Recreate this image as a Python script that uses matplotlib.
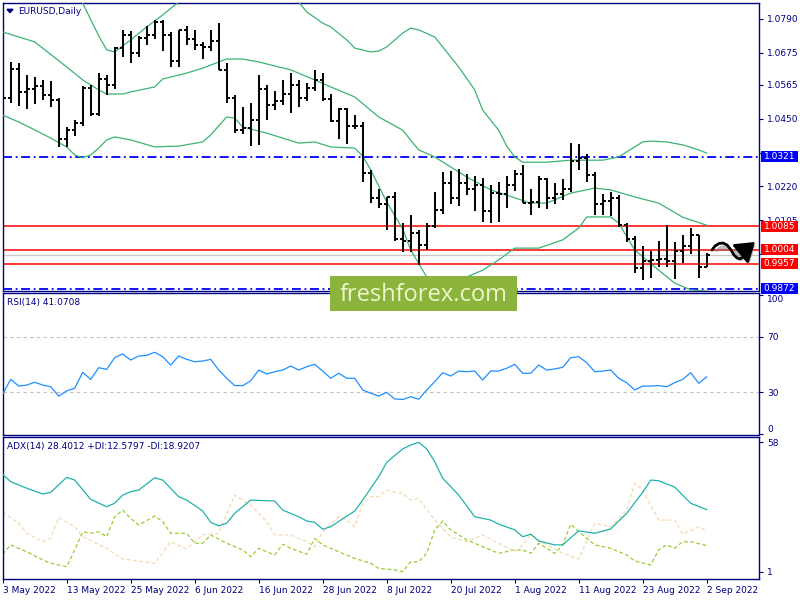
import matplotlib
matplotlib.use("Agg")
import matplotlib.pyplot as plt
import numpy as np
from matplotlib.patches import Rectangle, FancyArrowPatch, Polygon, ArrowStyle
from matplotlib.path import Path
from matplotlib.transforms import blended_transform_factory
import matplotlib.patheffects as pe

plt.rcParams['font.family'] = ['DejaVu Sans']

# ---------------- data ----------------
date_labels = ["3 May 2022", "13 May 2022", "25 May 2022", "6 Jun 2022", "16 Jun 2022",
               "28 Jun 2022", "8 Jul 2022", "20 Jul 2022", "1 Aug 2022", "11 Aug 2022",
               "23 Aug 2022", "2 Sep 2022"]
date_tick_idx = list(range(0, 89, 8))

opens = [1.0510, 1.0522, 1.0620, 1.0541, 1.0550, 1.0560, 1.0530, 1.0513, 1.0380, 1.0412,
         1.0435, 1.0555, 1.0465, 1.0585, 1.0563, 1.0690, 1.0735, 1.0675, 1.0725, 1.0733,
         1.0780, 1.0733, 1.0647, 1.0750, 1.0720, 1.0700, 1.0695, 1.0715, 1.0615, 1.0520,
         1.0410, 1.0420, 1.0445, 1.0550, 1.0495, 1.0510, 1.0535, 1.0566, 1.0522, 1.0555,
         1.0583, 1.0518, 1.0443, 1.0484, 1.0425, 1.0425, 1.0265, 1.0182, 1.0160, 1.0185,
         1.0040, 1.0035, 1.0060, 1.0020, 1.0085, 1.0140, 1.0230, 1.0180, 1.0230, 1.0212,
         1.0224, 1.0135, 1.0198, 1.0195, 1.0225, 1.0262, 1.0165, 1.0166, 1.0245, 1.0180,
         1.0195, 1.0210, 1.0305, 1.0318, 1.0260, 1.0160, 1.0170, 1.0180, 1.0088, 1.0040,
         0.9943, 0.9966, 0.9968, 0.9973, 0.9965, 1.0000, 1.0018, 1.0055, 0.9945]
highs = [1.0580, 1.0642, 1.0641, 1.0600, 1.0592, 1.0582, 1.0577, 1.0520, 1.0423, 1.0445,
         1.0560, 1.0565, 1.0605, 1.0600, 1.0695, 1.0750, 1.0748, 1.0730, 1.0765, 1.0787,
         1.0786, 1.0745, 1.0750, 1.0765, 1.0750, 1.0710, 1.0750, 1.0775, 1.0640, 1.0530,
         1.0490, 1.0505, 1.0600, 1.0565, 1.0545, 1.0583, 1.0605, 1.0580, 1.0570, 1.0615,
         1.0605, 1.0535, 1.0487, 1.0487, 1.0462, 1.0440, 1.0275, 1.0210, 1.0185, 1.0200,
         1.0097, 1.0122, 1.0070, 1.0095, 1.0200, 1.0270, 1.0273, 1.0278, 1.0262, 1.0255,
         1.0250, 1.0225, 1.0235, 1.0255, 1.0275, 1.0294, 1.0212, 1.0254, 1.0250, 1.0230,
         1.0245, 1.0368, 1.0365, 1.0330, 1.0268, 1.0195, 1.0202, 1.0190, 1.0096, 1.0050,
         1.0018, 0.9999, 1.0034, 1.0090, 1.0030, 1.0054, 1.0080, 1.0055, 0.9995]
lows = [1.0492, 1.0505, 1.0492, 1.0483, 1.0500, 1.0515, 1.0490, 1.0355, 1.0355, 1.0390,
        1.0425, 1.0460, 1.0460, 1.0530, 1.0550, 1.0660, 1.0640, 1.0660, 1.0700, 1.0720,
        1.0680, 1.0627, 1.0627, 1.0700, 1.0685, 1.0653, 1.0680, 1.0615, 1.0505, 1.0400,
        1.0397, 1.0358, 1.0360, 1.0445, 1.0480, 1.0495, 1.0470, 1.0490, 1.0510, 1.0545,
        1.0510, 1.0440, 1.0380, 1.0365, 1.0415, 1.0235, 1.0162, 1.0145, 1.0072, 1.0035,
        0.9998, 0.9998, 0.9952, 1.0005, 1.0080, 1.0125, 1.0160, 1.0152, 1.0190, 1.0135,
        1.0100, 1.0097, 1.0100, 1.0145, 1.0205, 1.0163, 1.0123, 1.0145, 1.0142, 1.0160,
        1.0175, 1.0202, 1.0275, 1.0235, 1.0123, 1.0123, 1.0118, 1.0082, 1.0030, 0.9926,
        0.9900, 0.9910, 0.9945, 0.9945, 0.9905, 0.9960, 0.9990, 0.9910, 0.9945]
closes = [1.0522, 1.0620, 1.0541, 1.0550, 1.0560, 1.0530, 1.0513, 1.0380, 1.0412, 1.0435,
          1.0555, 1.0465, 1.0585, 1.0563, 1.0690, 1.0735, 1.0675, 1.0725, 1.0733, 1.0780,
          1.0733, 1.0647, 1.0750, 1.0720, 1.0700, 1.0695, 1.0715, 1.0615, 1.0520, 1.0410,
          1.0420, 1.0445, 1.0550, 1.0495, 1.0510, 1.0535, 1.0566, 1.0522, 1.0555, 1.0583,
          1.0518, 1.0443, 1.0484, 1.0425, 1.0425, 1.0265, 1.0182, 1.0160, 1.0185, 1.0040,
          1.0035, 1.0060, 1.0020, 1.0085, 1.0140, 1.0230, 1.0180, 1.0230, 1.0212, 1.0224,
          1.0135, 1.0198, 1.0195, 1.0225, 1.0262, 1.0165, 1.0166, 1.0245, 1.0180, 1.0195,
          1.0210, 1.0305, 1.0318, 1.0260, 1.0160, 1.0170, 1.0180, 1.0088, 1.0040, 0.9943,
          0.9966, 0.9968, 0.9973, 0.9965, 1.0000, 1.0018, 1.0055, 0.9945, 0.9986]

# Bollinger bands
bb_up_idx = [0, 5, 8, 10, 11, 12, 13, 14, 16, 18, 20, 22, 25, 30, 34, 37, 38, 40, 41, 43,
             44, 46, 47, 48, 50, 51, 52, 54, 55, 57, 59, 60, 62, 63, 64, 65, 68, 71, 75, 77,
             79, 80, 81, 83, 85, 87, 88]
bb_up = [1.1007, 1.0973, 1.0922, 1.0843, 1.0787, 1.0732, 1.0684, 1.0677, 1.0718, 1.0762,
         1.0803, 1.0847, 1.0888, 1.0939, 1.0905, 1.0847, 1.0813, 1.0775, 1.0762, 1.0718,
         1.0690, 1.0677, 1.0680, 1.0694, 1.0741, 1.0758, 1.0752, 1.0728, 1.0694, 1.0626,
         1.0548, 1.0479, 1.0411, 1.0357, 1.0320, 1.0302, 1.0302, 1.0309, 1.0309, 1.0320,
         1.0354, 1.0371, 1.0374, 1.0371, 1.0361, 1.0344, 1.0333]
bb_mid_idx = [0, 4, 8, 10, 12, 13, 15, 16, 19, 20, 23, 25, 28, 30, 32, 36, 39, 41, 44, 47,
              50, 51, 52, 54, 58, 61, 66, 68, 71, 74, 76, 79, 82, 85, 88]
bb_mid = [1.0745, 1.0711, 1.0626, 1.0582, 1.0548, 1.0534, 1.0534, 1.0541, 1.0558, 1.0585,
          1.0605, 1.0622, 1.0653, 1.0653, 1.0643, 1.0616, 1.0582, 1.0558, 1.0524, 1.0456,
          1.0411, 1.0377, 1.0344, 1.0320, 1.0252, 1.0208, 1.0163, 1.0163, 1.0197, 1.0214,
          1.0208, 1.0184, 1.0163, 1.0115, 1.0088]
bb_low_idx = [0, 2, 4, 6, 8, 9, 10, 11, 12, 13, 14, 16, 19, 22, 25, 26, 28, 29, 30, 33,
              37, 39, 41, 44, 45, 46, 48, 50, 51, 53, 55, 57, 58, 60, 62, 64, 67, 70, 72, 73,
              76, 77, 79, 82, 84, 86, 88]
bb_low = [1.0462, 1.0439, 1.0412, 1.0384, 1.0354, 1.0327, 1.0317, 1.0327, 1.0350, 1.0378,
          1.0388, 1.0378, 1.0354, 1.0357, 1.0371, 1.0395, 1.0456, 1.0452, 1.0422, 1.0401,
          1.0367, 1.0371, 1.0354, 1.0350, 1.0323, 1.0276, 1.0167, 1.0075, 1.0004, 0.9912,
          0.9878, 0.9891, 0.9912, 0.9935, 0.9970, 1.0010, 1.0010, 1.0038, 1.0078, 1.0116,
          1.0116, 1.0095, 1.0004, 0.9935, 0.9891, 0.9868, 0.9864]

# Horizontal levels
blue_levels = [1.0321, 0.9872]
red_levels = [1.0085, 1.0004, 0.9957]
bid_price = 0.9986
price_ticks = [1.0790, 1.0675, 1.0565, 1.0450, 1.0335, 1.0220, 1.0105, 0.9990]
price_tick_labels = ['1.0790', '1.0675', '1.0565', '1.0450', '', '1.0220', '1.0105', '']

# RSI(14)
rsi = [28.8, 39.3, 34.5, 35.2, 37.2, 35.2, 34.0, 27.3, 31.0, 32.9,
       44.4, 39.3, 47.7, 46.5, 55.0, 57.6, 53.2, 56.1, 56.6, 58.8,
       55.6, 49.6, 56.1, 53.7, 52.0, 52.5, 53.7, 46.0, 40.1, 34.8,
       34.8, 38.3, 46.0, 43.2, 44.8, 46.0, 48.9, 46.0, 48.4, 50.1,
       45.3, 40.1, 43.7, 40.1, 40.1, 31.7, 29.3, 27.3, 30.0, 25.2,
       24.8, 26.8, 25.0, 31.7, 37.6, 44.1, 41.7, 45.3, 44.8, 45.3,
       38.8, 45.3, 45.3, 47.3, 50.1, 43.7, 43.7, 49.6, 46.0, 46.8,
       48.0, 54.9, 55.6, 51.3, 44.8, 45.3, 46.0, 40.1, 36.9, 31.7,
       34.5, 34.5, 34.8, 34.0, 36.9, 39.3, 44.1, 36.5, 41.1]

# ADX(14), +DI, -DI
adx_idx = [0, 1, 3, 5, 6, 8, 9, 11, 13, 14, 15, 16, 17, 19, 20, 22, 23, 25, 26, 27,
           28, 29, 31, 33, 34, 35, 37, 38, 39, 40, 41, 44, 45, 47, 48, 50, 51, 52, 53, 54,
           55, 57, 59, 61, 62, 64, 65, 66, 67, 69, 70, 72, 74, 76, 78, 80, 81, 82, 84, 86, 88]
adx = [43.9, 40.7, 37.8, 35.3, 36.0, 42.6, 41.4, 32.9, 29.7, 31.2, 34.8, 36.3, 37.0, 42.4,
       41.4, 34.1, 32.6, 27.8, 22.8, 21.3, 22.4, 26.8, 32.6, 32.3, 32.2, 28.2, 25.3, 23.4,
       22.8, 19.8, 20.9, 27.8, 32.6, 42.9, 49.2, 55.1, 56.8, 58.0, 55.1, 49.5, 42.2, 34.8,
       25.3, 23.8, 22.0, 19.5, 16.5, 17.6, 14.6, 12.9, 12.9, 19.1, 18.0, 19.9, 26.8, 36.0,
       41.4, 41.1, 38.3, 31.2, 28.4]
pdi_idx = [0, 1, 3, 5, 6, 8, 9, 10, 11, 12, 13, 14, 15, 16, 17, 19, 20, 21, 23, 24,
           25, 26, 28, 30, 31, 32, 34, 35, 36, 38, 39, 40, 42, 44, 46, 47, 49, 50, 51, 52,
           53, 54, 55, 56, 58, 60, 62, 64, 65, 66, 67, 69, 70, 71, 72, 74, 76, 78, 79, 81,
           82, 83, 84, 85, 86, 88]
pdi = [8.8, 12.9, 9.9, 6.3, 4.8, 3.3, 10.7, 18.7, 18.0, 18.7, 16.5, 25.3, 28.2, 24.6, 21.6,
       25.6, 23.1, 18.0, 18.0, 13.6, 13.6, 17.3, 13.6, 10.7, 7.7, 11.4, 8.5, 13.2, 11.4, 8.8,
       15.8, 12.9, 9.9, 7.0, 4.8, 2.6, 1.9, 1.1, 5.5, 5.5, 9.2, 19.5, 23.4, 19.5, 15.1,
       12.1, 9.2, 10.7, 10.7, 9.2, 13.6, 9.2, 12.9, 22.0, 18.7, 12.9, 11.4, 8.5, 5.8, 4.1,
       10.7, 12.9, 11.4, 14.3, 14.3, 12.6]
mdi_idx = [0, 2, 3, 5, 6, 7, 9, 10, 13, 15, 16, 19, 21, 23, 25, 27, 29, 31, 33, 34,
           36, 38, 39, 40, 42, 43, 44, 45, 46, 47, 48, 49, 50, 51, 52, 54, 56, 58, 60, 62,
           64, 65, 66, 68, 70, 72, 74, 76, 78, 79, 80, 82, 84, 85, 87, 88]
mdi = [27.2, 22.4, 18.0, 14.3, 15.8, 24.9, 20.9, 16.5, 11.4, 6.7, 6.3, 4.8, 14.3, 11.1,
       17.3, 18.0, 34.8, 30.4, 23.1, 17.3, 17.3, 14.3, 12.1, 18.7, 25.3, 23.8, 20.9, 31.0,
       34.1, 34.1, 37.0, 36.0, 35.6, 32.6, 33.4, 23.8, 16.5, 14.3, 17.3, 13.6, 9.9, 12.9,
       17.3, 12.9, 9.2, 6.7, 22.4, 20.9, 28.2, 40.0, 37.0, 23.8, 23.8, 17.6, 20.9, 18.9]

# hand-drawn forecast wave (bar index, price)
wave_idx = [88.66, 89.04, 89.54, 90.04, 90.54, 91.04, 91.41, 91.79, 92.16, 92.54, 92.91, 93.29, 93.66, 94.04]
wave_px = [1.00036, 1.00172, 1.00257, 1.00274, 1.00206, 1.00036, 0.99866, 0.99764, 0.99730,
           0.99798, 0.99934, 1.00104, 1.00223, 1.00308]

# ---------------- layout ----------------
W, H = 800, 600
NAVY = '#000080'
fig = plt.figure(figsize=(8, 6), dpi=100)
fig.patch.set_facecolor('white')


def fx(px):
    return px / W


def fy(py):
    return 1 - py / H


L, R = 2.7, 759.0
ax_p = fig.add_axes([fx(L), fy(290.5), fx(R) - fx(L), fy(3) - fy(290.5)])
ax_r = fig.add_axes([fx(L), fy(434.5), fx(R) - fx(L), fy(292.5) - fy(434.5)])
ax_a = fig.add_axes([fx(L), fy(579), fx(R) - fx(L), fy(436.5) - fy(579)])

xmax = (R - L) / 8.0
for ax in (ax_p, ax_r, ax_a):
    ax.set_xlim(0, xmax)
    for s in ax.spines.values():
        s.set_color(NAVY)
        s.set_linewidth(1.0)
    ax.yaxis.tick_right()
    ax.tick_params(axis='y', direction='out', length=3, width=0.8, colors=NAVY,
                   labelsize=6.5, pad=3)
    ax.set_facecolor('white')

ax_p.set_ylim(0.98659, 1.08434)
ax_r.set_ylim(-0.36, 101.8)
ax_a.set_ylim(-2.09, 60.55)

for ax in (ax_p, ax_r):
    ax.tick_params(axis='x', bottom=False, labelbottom=False)

# ---------------- price panel ----------------
x = np.arange(len(closes))
tick = 0.375
ax_p.vlines(x, lows, highs, color='black', lw=1.4, zorder=4)
ax_p.hlines(opens, x - tick, x, color='black', lw=1.4, zorder=4)
ax_p.hlines(closes, x, x + tick, color='black', lw=1.4, zorder=4)

bb_col = '#3cb371'
ax_p.plot(bb_up_idx, bb_up, color=bb_col, lw=0.9, zorder=3)
ax_p.plot(bb_mid_idx, bb_mid, color=bb_col, lw=0.9, zorder=3)
ax_p.plot(bb_low_idx, bb_low, color=bb_col, lw=0.9, zorder=3)

for v in blue_levels:
    ax_p.axhline(v, color='#0000ff', lw=1.3, ls=(0, (5, 2, 1, 2)), zorder=2)
for v in red_levels:
    ax_p.axhline(v, color='#ff0000', lw=1.1, zorder=2)
ax_p.axhline(bid_price, color='#c8c8c8', lw=0.9, zorder=1)

ax_p.set_yticks(price_ticks)
ax_p.set_yticklabels(price_tick_labels)

# price labels boxes on the right
trans = blended_transform_factory(fig.transFigure, ax_p.transData)
ylo, yhi = ax_p.get_ylim()
per_px = (yhi - ylo) / (290.5 - 3)
bh = 11 * per_px
for v, col in [(blue_levels[0], '#0000ff'), (red_levels[0], '#ff0000'),
               (red_levels[1], '#ff0000'), (red_levels[2], '#ff0000'),
               (blue_levels[1], '#0000ff')]:
    ax_p.add_patch(Rectangle((fx(761), v - bh / 2), fx(37), bh, transform=trans,
                             facecolor=col, edgecolor='none', clip_on=False, zorder=6))
    ax_p.text(fx(779.5), v, f'{v:.4f}', transform=trans, color='white', ha='center',
              va='center', fontsize=6.5, zorder=7, clip_on=False)

# forecast wave arrow
wave = Path(list(zip(wave_idx, wave_px)))
arr = FancyArrowPatch(path=wave, arrowstyle=ArrowStyle('-|>', head_length=0.75, head_width=0.5),
                      mutation_scale=15, color='black', lw=2.0, zorder=8, clip_on=False)
arr.set_path_effects([pe.SimplePatchShadow(offset=(1.5, -1.5), shadow_rgbFace='gray', alpha=0.5),
                      pe.Normal()])
ax_p.add_patch(arr)

# title
fig.add_artist(Polygon([(fx(7), fy(9.3)), (fx(13), fy(9.3)), (fx(10), fy(12.7))],
                       closed=True, transform=fig.transFigure, facecolor=NAVY,
                       edgecolor=NAVY, zorder=9))
fig.text(fx(18), fy(11), 'EURUSD,Daily', ha='left', va='center', color=NAVY,
         fontsize=6.5, zorder=9)

# ---------------- RSI panel ----------------
ax_r.plot(x, rsi, color='#1e90ff', lw=0.9, zorder=3)
for v in (70, 30):
    ax_r.axhline(v, color='#c0c0c0', lw=0.8, ls=(0, (3, 3)), zorder=1)
ax_r.set_yticks([100, 70, 30, 0])
ax_r.set_yticklabels(['100', '70', '30', '0'])
rl = ax_r.get_yticklabels()
rl[0].set_va('top')
rl[3].set_va('bottom')
fig.text(fx(7), fy(302), 'RSI(14) 41.0708', ha='left', va='center', color=NAVY,
         fontsize=6.5, zorder=9)

# ---------------- ADX panel ----------------
ax_a.plot(adx_idx, adx, color='#20b2aa', lw=0.9, zorder=3)
ax_a.plot(pdi_idx, pdi, color='#9acd32', lw=0.9, ls=(0, (3, 2)), zorder=2)
ax_a.plot(mdi_idx, mdi, color='#f5d9b0', lw=0.9, ls=(0, (3, 2)), zorder=2)
ax_a.set_yticks([58, 1])
ax_a.set_yticklabels(['58', '1'])
fig.text(fx(7), fy(447), 'ADX(14) 28.4012 +DI:12.5797 -DI:18.9207', ha='left',
         va='center', color=NAVY, fontsize=6.5, zorder=9)

ax_a.set_xticks(date_tick_idx)
ax_a.set_xticklabels(date_labels)
for lab in ax_a.get_xticklabels():
    lab.set_ha('left')
ax_a.tick_params(axis='x', direction='out', length=3, width=0.8, colors=NAVY,
                 labelsize=6.5, pad=2)

# ---------------- watermark ----------------
fig.add_artist(Rectangle((fx(330), fy(311)), fx(517) - fx(330), fy(276) - fy(311),
                         transform=fig.transFigure, facecolor='#8cb43c',
                         edgecolor='none', zorder=10))
fig.text(fx(423.5), fy(301.5), 'freshforex.com', ha='center', va='baseline',
         color='#eef7cc', fontsize=17, family=['Open Sans', 'DejaVu Sans'], zorder=11)

fig.savefig('out.png', dpi=100)
